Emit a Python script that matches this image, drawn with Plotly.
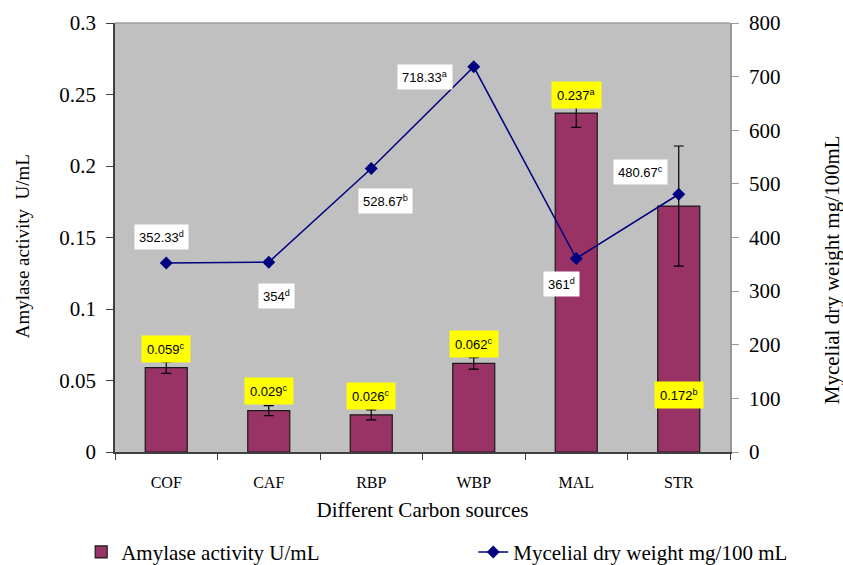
import plotly.graph_objects as go

categories = ["COF", "CAF", "RBP", "WBP", "MAL", "STR"]
amylase = [0.059, 0.029, 0.026, 0.062, 0.237, 0.172]
amylase_err = [0.004, 0.0035, 0.0035, 0.004, 0.010, 0.042]
amylase_letters = ["c", "c", "c", "c", "a", "b"]
amylase_label_y = [0.072, 0.0427, 0.039, 0.0755, 0.250, 0.040]
mycelial = [352.33, 354, 528.67, 718.33, 361, 480.67]
mycelial_letters = ["d", "d", "b", "a", "d", "c"]
mycelial_label_y = [401, 291, 468, 699, 313, 522]
mycelial_label_dx = [-5, 8, 14, -49, -15, -38]
left_ticks = [0, 0.05, 0.1, 0.15, 0.2, 0.25, 0.3]
left_ticktext = ["0", "0.05", "0.1", "0.15", "0.2", "0.25", "0.3"]
right_ticks = [0, 100, 200, 300, 400, 500, 600, 700, 800]

serif = "Liberation Serif, Times New Roman, serif"
sans = "Liberation Sans, Arial, sans-serif"

fig = go.Figure()
fig.add_trace(go.Bar(
    x=categories, y=amylase, name="Amylase activity U/mL", legend="legend",
    marker=dict(color="#993366", line=dict(color="#1a1a1a", width=1.2)),
    width=0.41,
    error_y=dict(type="data", array=amylase_err, color="#000000", thickness=1.2, width=5),
))
fig.add_trace(go.Scatter(
    x=categories, y=mycelial, name="Mycelial dry weight mg/100 mL", yaxis="y2", legend="legend2",
    mode="lines+markers",
    line=dict(color="#000080", width=1.5),
    marker=dict(symbol="diamond", size=10, color="#000080"),
))

annotations = []
for c, v, l, ly in zip(categories, amylase, amylase_letters, amylase_label_y):
    annotations.append(dict(
        x=c, y=ly, xref="x", yref="y", showarrow=False,
        text=f"{v:.3f}<sup>{l}</sup>",
        font=dict(family=sans, size=13, color="#000000"),
        bgcolor="#ffff00", borderpad=5,
    ))
for c, v, l, ly, dx in zip(categories, mycelial, mycelial_letters, mycelial_label_y, mycelial_label_dx):
    txt = f"{v:g}" if v == int(v) else f"{v:.2f}"
    annotations.append(dict(
        x=c, y=ly, xref="x", yref="y2", showarrow=False, xshift=dx,
        text=f"{txt}<sup>{l}</sup>",
        font=dict(family=sans, size=13, color="#000000"),
        bgcolor="#ffffff", borderpad=4,
    ))
# axis titles
annotations.append(dict(
    x=-0.151, y=0.48, xref="paper", yref="paper", showarrow=False, textangle=-90,
    text="Amylase activity  U/mL", xanchor="center", yanchor="middle",
    font=dict(family=serif, size=19, color="#000000"),
))
annotations.append(dict(
    x=1.166, y=0.424, xref="paper", yref="paper", showarrow=False, textangle=-90,
    text="Mycelial dry weight mg/100mL", xanchor="center", yanchor="middle",
    font=dict(family=serif, size=21, color="#000000"),
))

legend_font = dict(family=serif, size=21, color="#000000")
fig.update_layout(
    width=843, height=565,
    margin=dict(l=115, r=113, t=23, b=113, autoexpand=False),
    paper_bgcolor="#ffffff", plot_bgcolor="#c0c0c0",
    showlegend=True,
    legend=dict(orientation="h", x=-0.055, y=-0.186, yanchor="top", xanchor="left",
                font=legend_font, bgcolor="rgba(0,0,0,0)"),
    legend2=dict(orientation="h", x=0.5825, y=-0.186, yanchor="top", xanchor="left",
                 font=legend_font, bgcolor="rgba(0,0,0,0)"),
    xaxis=dict(
        type="category", range=[-0.5, 5.5], automargin=False,
        showline=True, linecolor="#404040", linewidth=1.5,
        ticks="outside", tickson="boundaries", ticklen=6, tickcolor="#404040",
        ticklabelstandoff=15,
        tickfont=dict(family=serif, size=16, color="#000000"),
        title=dict(text="Different Carbon sources", font=dict(family=serif, size=21, color="#000000"), standoff=12),
        showgrid=False, zeroline=False, mirror=False,
    ),
    yaxis=dict(
        range=[0, 0.3], tickvals=left_ticks, ticktext=left_ticktext, automargin=False,
        showline=True, linecolor="#404040", linewidth=1.5,
        ticks="outside", ticklen=7, tickcolor="#404040",
        ticklabelstandoff=6,
        tickfont=dict(family=serif, size=21, color="#000000"),
        showgrid=False, zeroline=False,
    ),
    yaxis2=dict(
        range=[0, 800], tickvals=right_ticks, overlaying="y", side="right", automargin=False,
        showline=True, linecolor="#999999", linewidth=1.5,
        ticks="outside", ticklen=7, tickcolor="#999999",
        ticklabelstandoff=6,
        tickfont=dict(family=serif, size=21, color="#000000"),
        showgrid=False, zeroline=False,
    ),
    annotations=annotations,
    shapes=[dict(type="line", xref="paper", yref="paper", x0=0, x1=1, y0=1, y1=1,
                 line=dict(color="#a0a0a0", width=1.5))],
)

fig.write_html(
    "out.html",
    config={"displayModeBar": False},
    post_script="document.body.style.margin='0px';document.body.style.overflow='hidden';",
)
